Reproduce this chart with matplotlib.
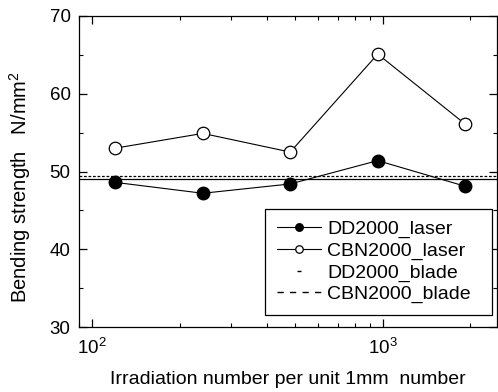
import numpy as np
import matplotlib
matplotlib.use("Agg")
import matplotlib.pyplot as plt
from matplotlib.lines import Line2D
from matplotlib.ticker import LogLocator, MultipleLocator, NullFormatter

plt.rcParams['font.family'] = ['Liberation Sans', 'DejaVu Sans']
plt.rcParams['mathtext.default'] = 'regular'

# Data
irradiation = [120, 240, 480, 960, 1920]
dd2000_laser = [48.6, 47.2, 48.4, 51.4, 48.1]
cbn2000_laser = [53.0, 54.9, 52.5, 65.1, 56.1]
dd2000_blade = 49.0
cbn2000_blade = 49.4

fig = plt.figure(figsize=(4.98, 3.92), dpi=100)
ax = fig.add_axes([79/498, 1-327/392, (497-79)/498, (327-16)/392])

ax.plot(irradiation, dd2000_laser, 'o-', color='black', mfc='black', mec='black',
        ms=9, lw=0.8, label='DD2000_laser')
ax.plot(irradiation, cbn2000_laser, 'o-', color='black', mfc='white', mec='black',
        ms=9, mew=0.9, lw=0.8, label='CBN2000_laser')
ax.axhline(dd2000_blade, color='black', lw=0.9)
ax.axhline(cbn2000_blade, color='black', lw=0.9, dashes=(2.2, 1.4))

ax.set_xscale('log')
ax.set_xlim(90, 2470)
ax.set_ylim(30, 70)
ax.yaxis.set_major_locator(MultipleLocator(10))
ax.yaxis.set_minor_locator(MultipleLocator(5))
ax.xaxis.set_major_locator(LogLocator(base=10))
ax.xaxis.set_minor_locator(LogLocator(base=10, subs=np.arange(2, 10)))
ax.xaxis.set_minor_formatter(NullFormatter())

ax.tick_params(which='both', direction='in', top=True, right=True, labelsize=13.5)
ax.tick_params(which='major', length=6, width=0.9)
ax.tick_params(which='minor', length=3, width=0.8)
ax.tick_params(axis='x', which='major', pad=8)
ax.tick_params(axis='y', which='major', pad=6)
for s in ax.spines.values():
    s.set_linewidth(0.9)

ax.set_ylabel('Bending strength   N/mm$^2$', fontsize=14.5)
ax.yaxis.set_label_coords(-0.110, 0.45)
ax.set_xlabel('Irradiation number per unit 1mm  number', fontsize=14, labelpad=9)

handles = ax.get_lines()[:2] + [
    Line2D([], [], color='black', linestyle='none', marker='_', ms=4, mew=1.0),
    Line2D([], [], color='black', lw=1.0, dashes=(4.5, 4.5)),
]
labels = ['DD2000_laser', 'CBN2000_laser', 'DD2000_blade', 'CBN2000_blade']
leg = ax.legend(handles, labels, loc='lower left',
                bbox_to_anchor=(0.445, 0.039, 0.543, 0.34), mode='expand',
                borderaxespad=0, fontsize=14, markerscale=0.6, frameon=True,
                fancybox=False, edgecolor='black', framealpha=1,
                handlelength=2.3, handletextpad=0.3, labelspacing=0.2, borderpad=0.6)
leg.get_frame().set_linewidth(0.9)

fig.savefig('out.png', dpi=100)
